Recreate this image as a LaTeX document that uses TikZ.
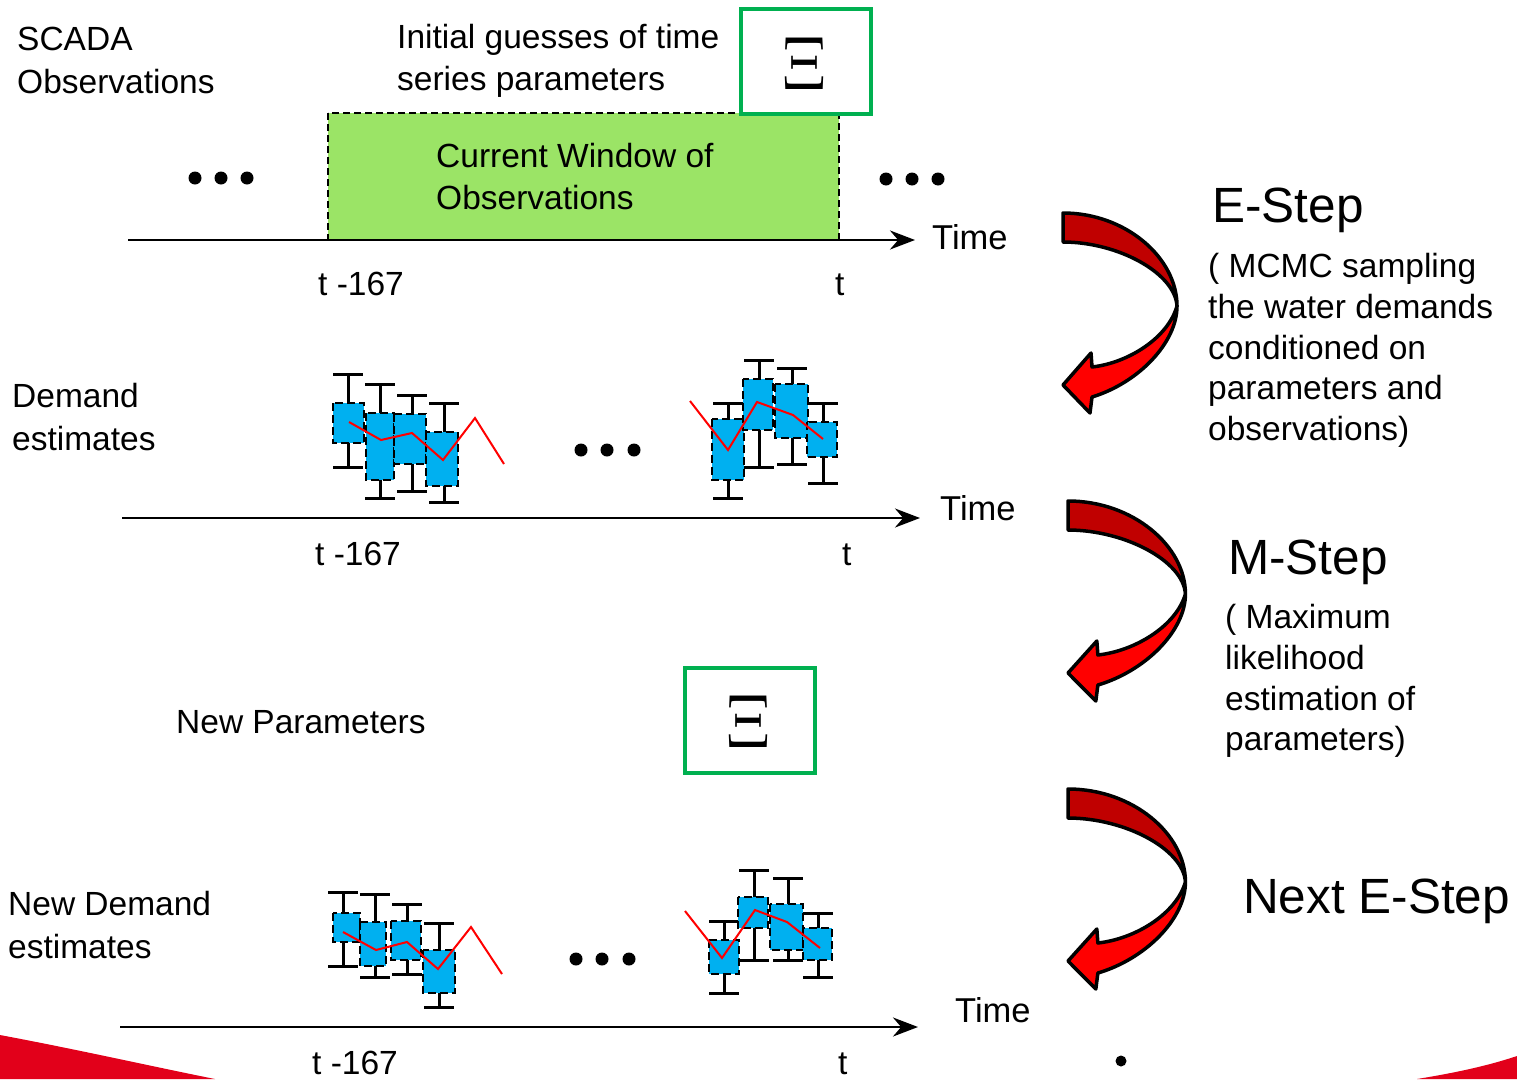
\documentclass[tikz,border=0pt]{standalone}
\usepackage{fontspec}
\setmainfont{Liberation Sans}
\usetikzlibrary{arrows.meta}

\definecolor{winGreen}{RGB}{155,228,102}
\definecolor{boxGreen}{RGB}{0,176,80}
\definecolor{boxCyan}{RGB}{0,176,240}
\definecolor{darkRed}{RGB}{192,0,0}
\definecolor{brightRed}{RGB}{255,0,0}
\definecolor{cornerRed}{RGB}{226,0,26}

\newcommand\txtA{\fontsize{33.5}{40}\selectfont}
\newcommand\txtTime{\fontsize{34.5}{40}\selectfont}
\newcommand\txtBig{\fontsize{49.5}{56}\selectfont}

\tikzset{
  lbl/.style={anchor=base west, inner sep=0pt, font=\txtA},
  timelbl/.style={anchor=base west, inner sep=0pt, font=\txtTime},
  biglbl/.style={anchor=base west, inner sep=0pt, font=\txtBig},
  axis/.style={line width=2.5pt, -{Stealth[length=25pt,width=19pt]}},
  whisk/.style={line width=3pt, black},
  qbox/.style={fill=boxCyan, draw=black, line width=2.5pt, dash pattern=on 8pt off 4pt},
  trend/.style={red, line width=2pt},
  xibox/.style={draw=boxGreen, line width=4.5pt, fill=white},
  swoosh/.pic={
    \draw[line width=3.5pt, line join=round, fill=darkRed]
      (0,0) .. controls (63,0) and (114,45) .. (114,93)
            .. controls (112,60) and (55,29) .. (0,29) -- cycle;
    \draw[line width=3.5pt, line join=round, fill=brightRed]
      (114,93) .. controls (114,130) and (75,170) .. (29,184)
      -- (27,200) -- (0,172) -- (28,140) -- (29,154)
      .. controls (65,150) and (105,125) .. (114,93) -- cycle;
  }
}

% one box plot: stem x, top cap y, bottom cap y, box x1, y1, x2, y2
\newcommand\bplot[7]{%
  \draw[whisk] (#1,#2) -- (#1,#3);
  \draw[whisk] (#1-15,#2) -- (#1+15,#2);
  \draw[whisk] (#1-15,#3) -- (#1+15,#3);
}
\newcommand\bplotbox[7]{%
  \draw[qbox] (#4,#5) rectangle (#6,#7);
}

\begin{document}
\begin{tikzpicture}[x=1pt,y=-1pt]
\useasboundingbox (0,0) rectangle (1517,1079);

% red corner swooshes
\fill[cornerRed] (0,1035) .. controls (80,1050) and (150,1066) .. (215,1079) -- (0,1079) -- cycle;
\fill[cornerRed] (1417,1079) .. controls (1460,1072) and (1490,1065) .. (1517,1056) -- (1517,1079) -- cycle;

% ---------- top row: observations ----------
\node[lbl] (scada1) at (17,50) {SCADA};
\node[lbl] (scada2) at (17,93) {Observations};
\node[lbl] (init1) at (397,48) {Initial guesses of time};
\node[lbl] (init2) at (397,90) {series parameters};

\draw[fill=winGreen, line width=2pt, dash pattern=on 7pt off 4pt] (328,113) rectangle (839,240);
\node[lbl] (win1) at (436,167) {Current Window of};
\node[lbl] (win2) at (436,209) {Observations};

\draw[xibox] (741,9) rectangle (871,114);
\node[inner sep=0pt] (xi1) at (804,64) {\scalebox{6.6}[7.6]{$\Xi$}};

\foreach \cx in {195,221,247} \fill (\cx,178) circle (6.5);
\foreach \cx in {886,912,938} \fill (\cx,179) circle (6.5);

\coordinate (a1s) at (128,240);
\coordinate (a1e) at (915,240);
\draw[axis] (a1s) -- (a1e);
\node[timelbl] (time1) at (932,249) {Time};
\node[lbl] (tm1) at (318,295) {t -167};
\node[lbl] (tt1) at (835,295) {t};

% ---------- demand estimates ----------
\node[lbl] (dem1) at (12,407) {Demand};
\node[lbl] (dem2) at (12,450) {estimates};

\bplot{348}{374}{467}{333}{403}{364}{443}
\bplot{380}{384}{498}{366}{413}{394}{480}
\bplot{412}{395}{491}{394}{414}{426}{464}
\bplot{444}{403}{502}{426}{432}{458}{486}
\bplotbox{348}{374}{467}{333}{403}{364}{443}
\bplotbox{380}{384}{498}{366}{413}{394}{480}
\bplotbox{412}{395}{491}{394}{414}{426}{464}
\bplotbox{444}{403}{502}{426}{432}{458}{486}
\draw[trend] (349,422) -- (381,440) -- (412,433) -- (443,460) -- (475,418) -- (504,464);

\foreach \cx in {581,607,634} \fill (\cx,450) circle (6.5);

\bplot{728}{403}{498}{712}{419}{744}{480}
\bplot{759}{360}{467}{743}{379}{773}{430}
\bplot{792}{368}{464}{775}{384}{808}{438}
\bplot{823}{403}{483}{807}{422}{837}{457}
\bplotbox{728}{403}{498}{712}{419}{744}{480}
\bplotbox{759}{360}{467}{743}{379}{773}{430}
\bplotbox{792}{368}{464}{775}{384}{808}{438}
\bplotbox{823}{403}{483}{807}{422}{837}{457}
\draw[trend] (690,401) -- (728,450) -- (757,402) -- (793,415) -- (823,439);

\coordinate (a2s) at (122,518);
\coordinate (a2e) at (920,518);
\draw[axis] (a2s) -- (a2e);
\node[timelbl] (time2) at (940,520) {Time};
\node[lbl] (tm2) at (315,565) {t -167};
\node[lbl] (tt2) at (842,565) {t};

% ---------- new parameters ----------
\node[lbl] (newp) at (176,733) {New Parameters};
\draw[xibox] (685,668) rectangle (815,773);
\node[inner sep=0pt] (xi2) at (748,722) {\scalebox{6.6}[7.6]{$\Xi$}};

% ---------- new demand estimates ----------
\node[lbl] (ndem1) at (8,915) {New Demand};
\node[lbl] (ndem2) at (8,958) {estimates};

\bplot{343}{892}{966}{333}{913}{360}{942}
\bplot{375}{894}{977}{360}{922}{386}{966}
\bplot{407}{904}{974}{391}{921}{421}{960}
\bplot{439}{923}{1007}{423}{950}{455}{993}
\bplotbox{343}{892}{966}{333}{913}{360}{942}
\bplotbox{375}{894}{977}{360}{922}{386}{966}
\bplotbox{407}{904}{974}{391}{921}{421}{960}
\bplotbox{439}{923}{1007}{423}{950}{455}{993}
\draw[trend] (343,932) -- (376,950) -- (407,942) -- (438,969) -- (471,927) -- (502,974);

\foreach \cx in {576,602,629} \fill (\cx,959) circle (6.5);

\bplot{724}{921}{993}{709}{940}{739}{974}
\bplot{754}{870}{960}{738}{897}{768}{928}
\bplot{788}{878}{960}{770}{904}{803}{950}
\bplot{818}{913}{977}{803}{928}{832}{960}
\bplotbox{724}{921}{993}{709}{940}{739}{974}
\bplotbox{754}{870}{960}{738}{897}{768}{928}
\bplotbox{788}{878}{960}{770}{904}{803}{950}
\bplotbox{818}{913}{977}{803}{928}{832}{960}
\draw[trend] (685,911) -- (722,958) -- (755,910) -- (787,922) -- (820,948);

\coordinate (a3s) at (120,1027);
\coordinate (a3e) at (918,1027);
\draw[axis] (a3s) -- (a3e);
\node[timelbl] (time3) at (955,1022) {Time};
\node[lbl] (tm3) at (312,1074) {t -167};
\node[lbl] (tt3) at (838,1074) {t};

\fill (1121,1061) circle (5.5);

% ---------- EM step arrows and captions ----------
\pic at (1063,213) {swoosh};
\pic[xscale=1.03] at (1068,501) {swoosh};
\pic[xscale=1.03] at (1068,789) {swoosh};

\node[biglbl] (estep) at (1212,222) {E-Step};
\node[lbl] (e1) at (1208,277) {( MCMC sampling};
\node[lbl] (e2) at (1208,318) {the water demands};
\node[lbl] (e3) at (1208,359) {conditioned on};
\node[lbl] (e4) at (1208,399) {parameters and};
\node[lbl] (e5) at (1208,440) {observations)};

\node[biglbl] (mstep) at (1228,574) {M-Step};
\node[lbl] (m1) at (1225,628) {( Maximum};
\node[lbl] (m2) at (1225,669) {likelihood};
\node[lbl] (m3) at (1225,710) {estimation of};
\node[lbl] (m4) at (1225,750) {parameters)};

\node[biglbl] (nstep) at (1243,913) {Next E-Step};
\end{tikzpicture}
\end{document}
